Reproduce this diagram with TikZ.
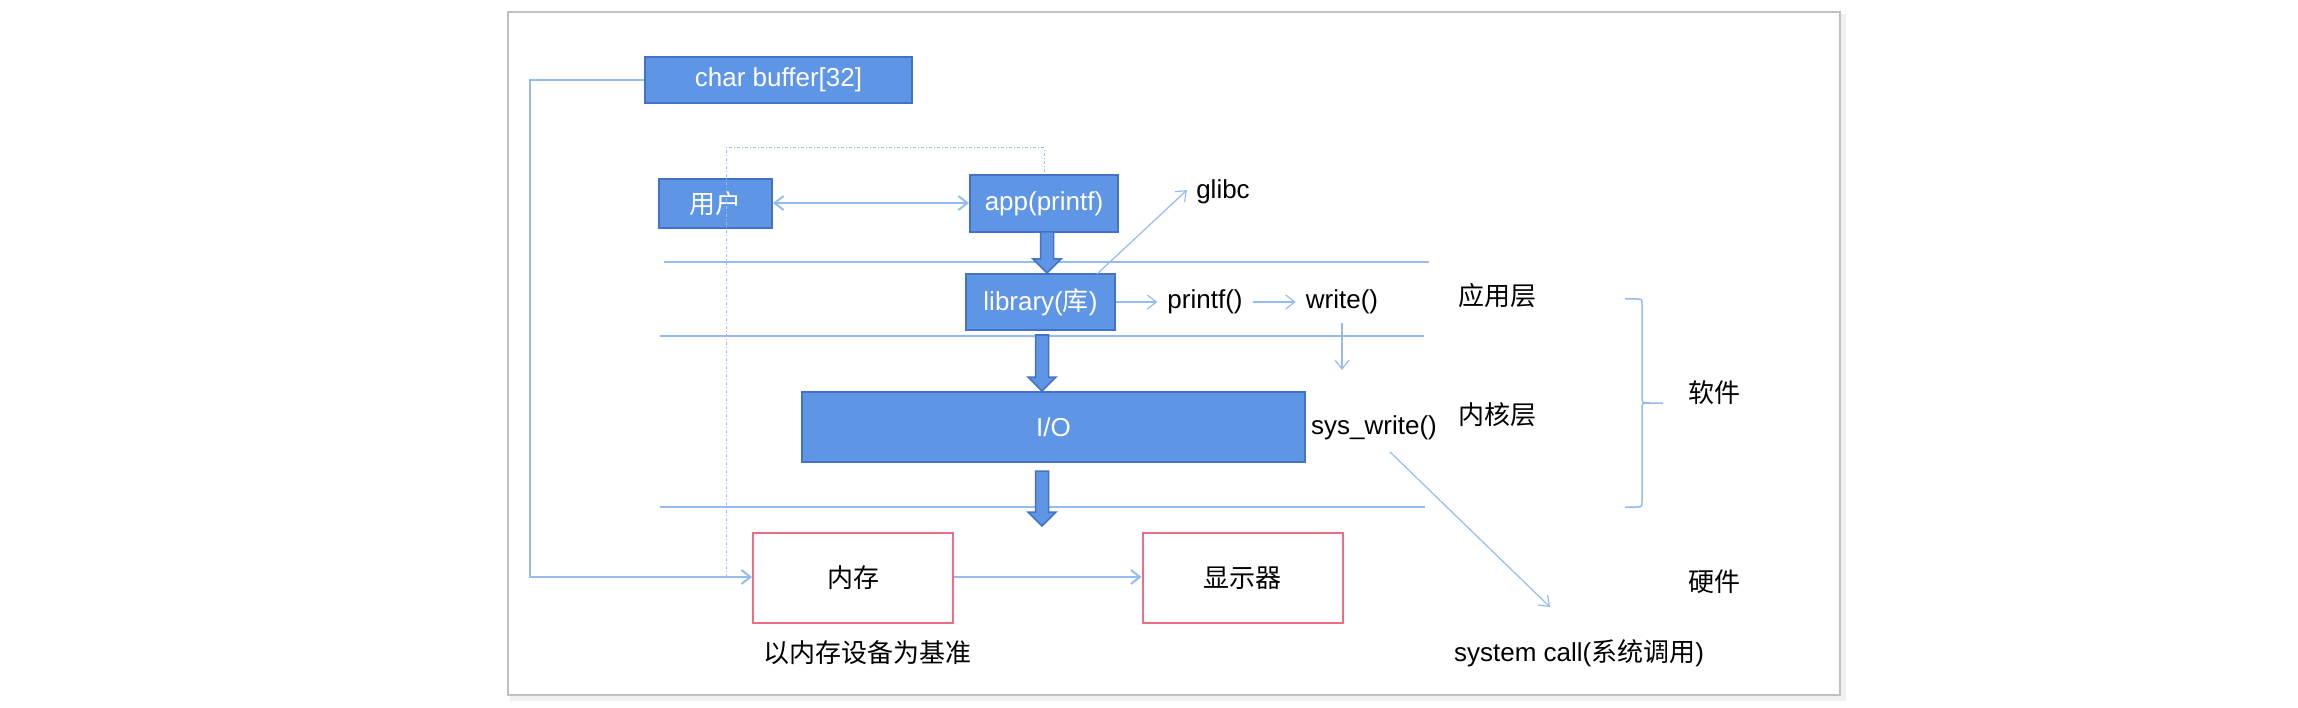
\documentclass[tikz,border=0pt]{standalone}
\usepackage{fontspec}
\setmainfont{Liberation Sans}
\newfontfamily\cjk{Noto Sans CJK SC}
\usetikzlibrary{arrows.meta}
\definecolor{boxfill}{RGB}{94,149,228}
\definecolor{boxedge}{RGB}{68,114,196}
\definecolor{thinblue}{RGB}{150,187,238}
\definecolor{pinkedge}{RGB}{236,110,132}
\definecolor{framegray}{RGB}{192,192,192}
\newcommand\blkarr[3]{%
  \draw[blockarrow] ({#1-6.5},#2) -- ({#1+6.5},#2) -- ({#1+6.5},{#3-14}) -- ({#1+14},{#3-14})
    -- (#1,#3) -- ({#1-14},{#3-14}) -- ({#1-6.5},{#3-14}) -- cycle;}
\begin{document}
\begin{tikzpicture}[x=1pt,y=-1pt,
  font=\fontsize{26}{30}\selectfont,
  bluebox/.style={draw=boxedge, line width=2pt, fill=boxfill, text=white, inner sep=0pt},
  pinkbox/.style={draw=pinkedge, line width=2pt, fill=white, inner sep=0pt,
                  minimum width=200pt, minimum height=90pt},
  layerline/.style={draw=thinblue, line width=2pt},
  tip/.style={-{Straight Barb[length=9pt,width=14pt]}},
  thinarrow/.style={draw=thinblue, line width=1.2pt, tip},
  midarrow/.style={draw=thinblue, line width=2pt, tip},
  lbl/.style={inner sep=0pt, text=black},
  blockarrow/.style={draw=boxedge, line width=1.5pt, fill=boxfill}]
\useasboundingbox (0,0) rectangle (2298,708);
% frame with shadow
\fill[black!10] (512,16) rectangle (1844,699);
\fill[black!6] (510,14) rectangle (1846,701);
\draw[framegray, line width=2.5pt, fill=white] (508,12) rectangle (1840,695);

% layer lines
\draw[layerline] (664,262) -- (1429,262);
\draw[layerline] (660,336) -- (1424,336);
\draw[layerline] (660,507) -- (1425,507);

% boxes
\node[bluebox, minimum width=267pt, minimum height=46pt] (buf) at (778.5,80) {char buffer[32]};
\node[bluebox, minimum width=113pt, minimum height=49pt] (user) at (715.5,203.5) {\cjk 用户};
\node[bluebox, minimum width=148pt, minimum height=57pt] (app) at (1044,203.5) {app(printf)};
\node[bluebox, minimum width=149pt, minimum height=56pt] (lib) at (1040.5,302) {library({\cjk 库})};
\node[bluebox, minimum width=503pt, minimum height=70pt] (io) at (1053.5,427) {I/O};
\node[pinkbox] (mem) at (853,578) {\cjk 内存};
\node[pinkbox] (disp) at (1242.5,578) {\cjk 显示器};

% dotted outline
\draw[thinblue, line width=1pt, dash pattern=on 3pt off 2pt on 1pt off 2pt]
  (726,577) -- (726,148) -- (1044,148) -- (app.north);

% buffer to memory
\draw[midarrow] (buf.west) -- (530,80) -- (530,577) -- (mem.west |- 0,577);
% memory to display
\draw[midarrow] (mem.east |- 0,577) -- (disp.west |- 0,577);
% user <-> app
\draw[draw=thinblue, line width=2pt, {Straight Barb[length=9pt,width=14pt]}-{Straight Barb[length=9pt,width=14pt]}] (user.east |- 0,203) -- (app.west |- 0,203);

% labels
\node[lbl] (glibc) at (1223,192) {glibc};
\node[lbl] (printf) at (1205,302) {printf()};
\node[lbl] (write) at (1342,302) {write()};
\node[lbl] (sysw) at (1374,428) {sys\_write()};
\node[lbl] (app层) at (1497,296) {\cjk 应用层};
\node[lbl] (kern) at (1497,415) {\cjk 内核层};
\node[lbl] (soft) at (1714,393) {\cjk 软件};
\node[lbl] (hard) at (1714,582) {\cjk 硬件};
\node[lbl] (syscall) at (1579,653) {system call({\cjk 系统调用})};
\node[lbl] (base) at (867,653) {\cjk 以内存设备为基准};

% thin arrows
\coordinate (gA) at (1097,274);
\coordinate (gB) at (1187,190);
\draw[thinarrow] (gA) -- (gB);
\draw[thinarrow] (lib.east |- 0,302) -- ([xshift=-10pt]printf.west |- 0,302);
\draw[thinarrow] ([xshift=10pt]printf.east |- 0,302) -- ([xshift=-10pt]write.west |- 0,302);
\coordinate (wA) at (1342,323);
\coordinate (wB) at (1342,370);
\draw[thinarrow] (wA) -- (wB);
\coordinate (sA) at (1390,452);
\coordinate (sB) at (1550,607);
\draw[thinarrow] (sA) -- (sB);

% brace
\draw[thinblue, line width=1.5pt]
  (1625,299) -- (1636,299) .. controls (1642,299) .. (1642,305) -- (1642,397)
  .. controls (1642,403) .. (1650,403) -- (1663,403);
\draw[thinblue, line width=1.5pt]
  (1650,403) .. controls (1642,403) .. (1642,409) -- (1642,501)
  .. controls (1642,507) .. (1636,507) -- (1625,507);

% block arrows
\blkarr{1047}{232}{273}
\blkarr{1042}{335}{391}
\blkarr{1042}{471}{526}
\end{tikzpicture}
\end{document}
